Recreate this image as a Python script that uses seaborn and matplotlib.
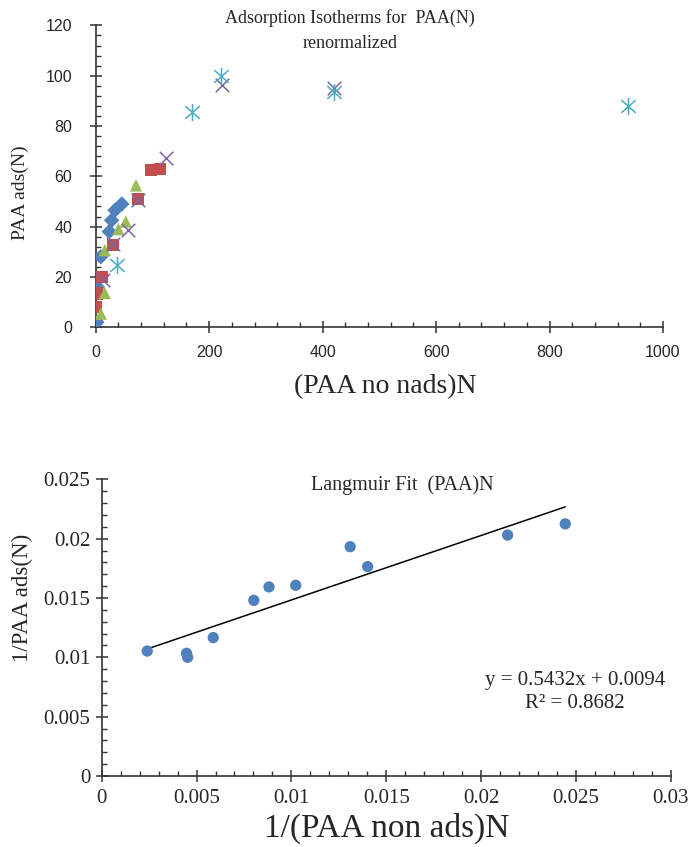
import numpy as np
import pandas as pd
import matplotlib
matplotlib.use("Agg")
import matplotlib.pyplot as plt
import seaborn as sns
from matplotlib.ticker import MultipleLocator
from matplotlib.path import Path

# ---------------- data: top chart (Adsorption isotherms) ----------------
s1_x = [2, 3, 9, 24, 28, 34, 46]
s1_y = [2, 16, 28, 38, 42.5, 46.5, 49]
s2_x = [1, 2, 10.6, 31, 75, 97, 113]
s2_y = [8, 13.4, 20, 32.6, 51, 62.4, 62.8]
s3_x = [9, 16, 16, 40, 53, 71]
s3_y = [5.4, 13.6, 30.6, 39, 42, 56.4]
s4_x = [12, 31, 57.5, 75, 124, 223, 420]
s4_y = [18.7, 33, 38.5, 50.5, 67.4, 96.5, 95]
s5_x = [38, 170, 220, 420, 938]
s5_y = [24.6, 85.5, 99.7, 93.5, 87.8]

top_xticks = [0, 200, 400, 600, 800, 1000]
top_yticks = [0, 20, 40, 60, 80, 100, 120]

# ---------------- data: bottom chart (Langmuir fit) ----------------
inv_non_ads = [0.0024, 0.00447, 0.00453, 0.00588, 0.00802, 0.00882,
               0.01023, 0.0131, 0.01402, 0.0214, 0.02444]
inv_ads = [0.01053, 0.01034, 0.0100, 0.01166, 0.0148, 0.01593,
           0.01607, 0.01932, 0.01764, 0.0203, 0.02124]
fit_slope = 0.5432
fit_intercept = 0.0094
fit_r2 = 0.8682

bot_xticks = [0, 0.005, 0.01, 0.015, 0.02, 0.025, 0.03]
bot_yticks = [0, 0.005, 0.01, 0.015, 0.02, 0.025]

# ---------------- styling ----------------
sns.set_style("ticks")
SERIF = ["Liberation Serif", "DejaVu Serif"]
SANS = ["Liberation Sans", "DejaVu Sans"]
plt.rcParams["font.family"] = SERIF
AXC = "#333333"
TXT = "#262626"

# Excel-like star marker: vertical bar plus an X
star_marker = Path(
    [(0, -1), (0, 1), (-0.85, -0.75), (0.85, 0.75), (-0.85, 0.75), (0.85, -0.75)],
    [Path.MOVETO, Path.LINETO, Path.MOVETO, Path.LINETO, Path.MOVETO, Path.LINETO],
)

fig = plt.figure(figsize=(6.9, 8.47), dpi=100)
ax1 = fig.add_axes([95.7 / 690, 1 - 327.2 / 847, (663 - 95.7) / 690, (327.2 - 25.4) / 847])
ax2 = fig.add_axes([101.7 / 690, 1 - 776 / 847, 569 / 690, 296.7 / 847])

series = [
    (s1_x, s1_y, "D", "#4F81BD", 62, "fill"),
    (s2_x, s2_y, "s", "#C0504D", 80, "fill"),
    (s3_x, s3_y, "^", "#9BBB59", 80, "fill"),
    (s4_x, s4_y, "x", "#8064A2", 95, "line"),
    (s5_x, s5_y, star_marker, "#4BACC6", 150, "path"),
]
for xs, ys, mk, col, size, kind in series:
    df = pd.DataFrame({"x": xs, "y": ys})
    if kind == "fill":
        sns.scatterplot(data=df, x="x", y="y", ax=ax1, marker=mk, color=col,
                        s=size, linewidth=0, edgecolor="none", zorder=3)
    elif kind == "line":
        sns.scatterplot(data=df, x="x", y="y", ax=ax1, marker=mk, color=col,
                        s=size, linewidth=1.1, zorder=3)
    else:
        sns.scatterplot(data=df, x="x", y="y", ax=ax1, marker=mk, color=col,
                        edgecolor=col, s=size, linewidth=1.1, zorder=3)

df_b = pd.DataFrame({"x": inv_non_ads, "y": inv_ads})
sns.scatterplot(data=df_b, x="x", y="y", ax=ax2, marker="o", color="#4F81BD",
                s=66, linewidth=0, edgecolor="none", zorder=3)
fx = np.array([min(inv_non_ads), max(inv_non_ads)])
df_fit = pd.DataFrame({"x": fx, "y": fit_slope * fx + fit_intercept})
sns.lineplot(data=df_fit, x="x", y="y", ax=ax2, color="black", linewidth=1.1, zorder=2)

for ax in (ax1, ax2):
    sns.despine(ax=ax)
    for sp in ("left", "bottom"):
        ax.spines[sp].set_color(AXC)
        ax.spines[sp].set_linewidth(1.2)
    ax.tick_params(which="major", direction="inout", length=8, width=1.1, color=AXC)
    ax.tick_params(which="minor", direction="in", length=3.6, width=1.0, color=AXC)

# top axes
ax1.set_xlim(0, 1000)
ax1.set_ylim(0, 120)
ax1.set_xticks(top_xticks)
ax1.set_yticks(top_yticks)
ax1.xaxis.set_minor_locator(MultipleLocator(40))
ax1.yaxis.set_minor_locator(MultipleLocator(4))
ax1.tick_params(axis="x", which="major", pad=9)
ax1.tick_params(axis="y", which="major", pad=13)
for lab in ax1.get_xticklabels() + ax1.get_yticklabels():
    lab.set_fontfamily(SANS)
    lab.set_fontsize(11.5)
    lab.set_color(TXT)
ax1.set_xlabel("(PAA no nads)N", fontsize=20, color=TXT, family=SERIF)
ax1.xaxis.set_label_coords(0.51, -0.155)
ax1.set_ylabel("PAA ads(N)", fontsize=14, color=TXT, family=SERIF)
ax1.yaxis.set_label_coords(-0.118, 0.447)

fig.text(350 / 690, 1 - 18 / 847, "Adsorption Isotherms for  PAA(N)", ha="center",
         va="center", fontsize=13, color=TXT, family=SERIF)
fig.text(350 / 690, 1 - 44 / 847, "renormalized", ha="center",
         va="center", fontsize=13, color=TXT, family=SERIF)

# bottom axes
ax2.set_xlim(0, 0.03)
ax2.set_ylim(0, 0.025)
ax2.set_xticks(bot_xticks)
ax2.set_yticks(bot_yticks)
ax2.set_xticklabels(["0", "0.005", "0.01", "0.015", "0.02", "0.025", "0.03"])
ax2.set_yticklabels(["0", "0.005", "0.01", "0.015", "0.02", "0.025"])
ax2.xaxis.set_minor_locator(MultipleLocator(0.001))
ax2.yaxis.set_minor_locator(MultipleLocator(0.001))
ax2.tick_params(axis="x", which="major", pad=5.5)
ax2.tick_params(axis="y", which="major", pad=4)
for lab in ax2.get_xticklabels() + ax2.get_yticklabels():
    lab.set_fontfamily(SERIF)
    lab.set_fontsize(15)
    lab.set_color(TXT)
ax2.set_xlabel("1/(PAA non ads)N", fontsize=24, color=TXT, family=SERIF)
ax2.xaxis.set_label_coords(0.5, -0.125)
ax2.set_ylabel("1/PAA ads(N)", fontsize=16.5, color=TXT, family=SERIF)
ax2.yaxis.set_label_coords(-0.12, 0.6)

fig.text(402 / 690, 1 - 485 / 847, "Langmuir Fit  (PAA)N", ha="center",
         va="center", fontsize=14.5, color=TXT, family=SERIF)
fig.text(575 / 690, 1 - 681 / 847, f"y = {fit_slope}x + {fit_intercept}", ha="center",
         va="center", fontsize=15, color=TXT, family=SERIF)
fig.text(575 / 690, 1 - 703 / 847, f"R\u00b2 = {fit_r2}", ha="center",
         va="center", fontsize=15, color=TXT, family=SERIF)

fig.savefig("out.png", dpi=100)
